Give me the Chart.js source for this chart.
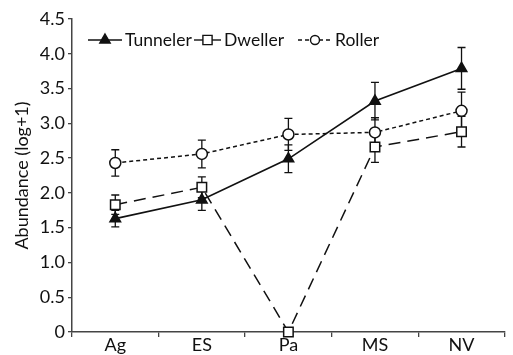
<!DOCTYPE html>
<html>
<head>
<meta charset="utf-8">
<script src="https://cdn.jsdelivr.net/npm/chart.js@4"></script>
<style>
  html, body { margin: 0; padding: 0; background: #fff; }
  #wrap { width: 513px; height: 355px; }
</style>
</head>
<body>
<div id="wrap"><canvas id="c"></canvas></div>
<script>
const sites = ['Ag', 'ES', 'Pa', 'MS', 'NV'];

const tunneler = [1.63, 1.90, 2.49, 3.32, 3.79];
const tunnelerErr = [0.12, 0.15, 0.20, 0.27, 0.30];
const dweller = [1.83, 2.08, 0, 2.66, 2.88];
const dwellerErr = [0.14, 0.15, 0, 0.22, 0.22];
const roller = [2.43, 2.56, 2.84, 2.87, 3.18];
const rollerErr = [0.19, 0.20, 0.23, 0.21, 0.27];

const font = "Lato, 'Open Sans', sans-serif";
const ink = '#111';

const errs = [tunnelerErr, dwellerErr, rollerErr];

// error bars go under the markers
const errorBars = {
  id: 'errorBars',
  beforeDatasetsDraw(chart) {
    const ctx = chart.ctx;
    const y = chart.scales.y;
    ctx.save();
    ctx.strokeStyle = ink;
    ctx.lineWidth = 1.3;
    chart.data.datasets.forEach((ds, i) => {
      const meta = chart.getDatasetMeta(i);
      meta.data.forEach((pt, j) => {
        const e = errs[i][j];
        if (!e) return;
        const top = y.getPixelForValue(ds.data[j] + e);
        const bot = y.getPixelForValue(ds.data[j] - e);
        ctx.beginPath();
        ctx.moveTo(pt.x, top); ctx.lineTo(pt.x, bot);
        ctx.moveTo(pt.x - 4, top); ctx.lineTo(pt.x + 4, top);
        ctx.moveTo(pt.x - 4, bot); ctx.lineTo(pt.x + 4, bot);
        ctx.stroke();
      });
    });
    ctx.restore();
  }
};

// legend with line + marker, drawn inside the plot
const lineLegend = {
  id: 'lineLegend',
  afterDraw(chart) {
    const ctx = chart.ctx;
    const items = [
      {x: 88, w: 34, dash: [], style: 'triangle', r: 6, fill: ink, label: 'Tunneler'},
      {x: 194, w: 27, dash: [], style: 'rect', r: 6.5, fill: '#fff', label: 'Dweller'},
      {x: 298, w: 34, dash: [4, 3], style: 'circle', r: 4.5, fill: '#fff', label: 'Roller'}
    ];
    const yy = 40;
    ctx.save();
    items.forEach(it => {
      ctx.strokeStyle = ink;
      ctx.lineWidth = 1.4;
      ctx.setLineDash(it.dash);
      ctx.beginPath();
      ctx.moveTo(it.x, yy); ctx.lineTo(it.x + it.w, yy);
      ctx.stroke();
      ctx.setLineDash([]);
      ctx.fillStyle = it.fill;
      Chart.helpers.drawPoint(ctx, {pointStyle: it.style, radius: it.r, borderWidth: 1.4}, it.x + it.w / 2, yy);
      ctx.fillStyle = ink;
      ctx.font = '17.5px ' + font;
      ctx.textBaseline = 'middle';
      ctx.fillText(it.label, it.x + it.w + 3, yy);
    });
    ctx.restore();
  }
};

new Chart(document.getElementById('c'), {
  type: 'line',
  data: {
    labels: sites,
    datasets: [
      {label: 'Tunneler', data: tunneler, borderColor: ink, borderWidth: 1.6,
       pointStyle: 'triangle', pointRadius: 6, pointBackgroundColor: ink, pointBorderColor: ink},
      {label: 'Dweller', data: dweller, borderColor: ink, borderWidth: 1.5, borderDash: [12, 7],
       pointStyle: 'rect', pointRadius: 6.7, pointBackgroundColor: '#fff', pointBorderColor: ink, pointBorderWidth: 1.5},
      {label: 'Roller', data: roller, borderColor: ink, borderWidth: 1.5, borderDash: [4, 3],
       pointStyle: 'circle', pointRadius: 5.5, pointBackgroundColor: '#fff', pointBorderColor: ink, pointBorderWidth: 1.5}
    ]
  },
  options: {
    responsive: true,
    maintainAspectRatio: false,
    animation: false,
    clip: false,
    layout: {padding: {top: 19, right: 5, left: 0, bottom: 0}},
    plugins: {legend: {display: false}, tooltip: {enabled: false}},
    scales: {
      x: {
        offset: true,
        grid: {drawOnChartArea: false, offset: true, color: '#444', tickLength: 5, lineWidth: 1.3},
        border: {color: '#444', width: 1.5},
        ticks: {color: ink, font: {family: font, size: 18}, padding: -3},
        afterFit(s) { s.height = 23; }
      },
      y: {
        min: 0, max: 4.5,
        grid: {drawOnChartArea: false, color: '#444', tickLength: 4, lineWidth: 1.3},
        border: {color: '#444', width: 1.5},
        ticks: {
          stepSize: 0.5, color: ink, font: {family: font, size: 18}, padding: 3,
          callback: v => v === 0 ? '0' : v.toFixed(1)
        },
        title: {display: true, text: 'Abundance (log+1)', color: ink, font: {family: font, size: 18}, padding: {top: 11, bottom: 0}},
        afterFit(s) { s.width = 72; }
      }
    }
  },
  plugins: [errorBars, lineLegend]
});
</script>
</body>
</html>
